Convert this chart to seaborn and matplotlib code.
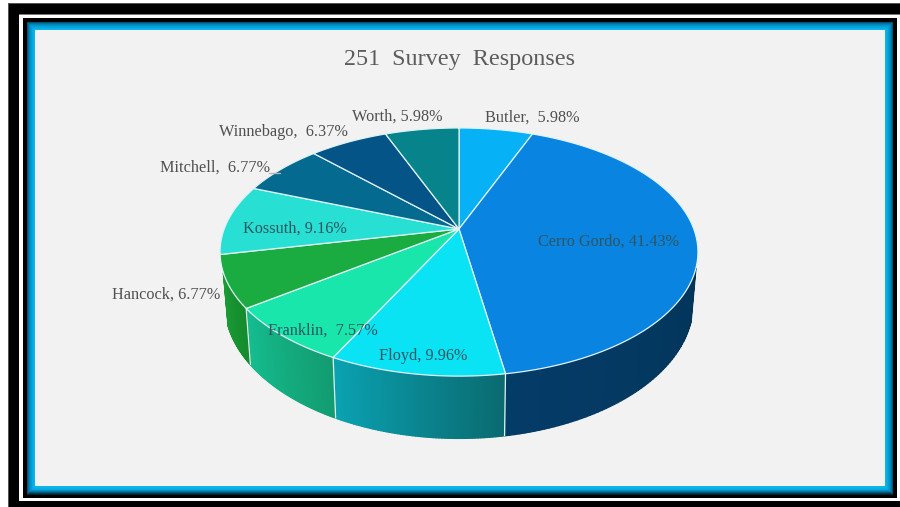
import numpy as np
import matplotlib
matplotlib.use("Agg")
import matplotlib.pyplot as plt
from matplotlib.colors import to_rgb
from matplotlib.patches import Polygon, Rectangle
from matplotlib.collections import PolyCollection
import seaborn as sns

# Survey share per county, clockwise from twelve o'clock
counties = ["Butler", "Cerro Gordo", "Floyd", "Franklin", "Hancock",
            "Kossuth", "Mitchell", "Winnebago", "Worth"]
shares = [5.98, 41.43, 9.96, 7.57, 6.77, 9.16, 6.77, 6.37, 5.98]
top_hex = ["#06b1f6", "#0984e0", "#0ae3f3", "#18e6aa", "#1aac40",
           "#27dfd3", "#046a90", "#055488", "#07838c"]
# Side shading runs from the right end of each slice to its left end
side_right = {1: "#03355a", 2: "#0a6a70", 3: "#129c70", 4: "#148a2c"}
side_left = {1: "#043c68", 2: "#0aa2b2", 3: "#15bd8f", 4: "#1a9a35"}
title_text = "251  Survey  Responses"
label_texts = ["Butler,  5.98%", "Cerro Gordo, 41.43%", "Floyd, 9.96%",
               "Franklin,  7.57%", "Hancock, 6.77%", "Kossuth, 9.16%",
               "Mitchell,  6.77%", "Winnebago,  6.37%", "Worth, 5.98%"]
label_x = [485, 538, 379, 268, 112, 243, 160, 219, 352]
label_y = [118, 241.5, 356.5, 331, 294.5, 228.5, 167.5, 132.5, 116.5]
label_inside = [False, True, True, True, False, True, False, False, False]

sns.set_theme(style="white")
palette = sns.color_palette(top_hex)
plt.rcParams["font.family"] = ["Liberation Serif", "DejaVu Serif"]

fig = plt.figure(figsize=(9, 5.07), dpi=100, facecolor="white")
ax = fig.add_axes([0, 0, 1, 1])
ax.set_xlim(0, 900)
ax.set_ylim(507, 0)
ax.axis("off")


def box(x0, y0, x1, y1, color, z=1):
    ax.add_patch(Rectangle((x0, y0), x1 - x0, y1 - y0, facecolor=color,
                           edgecolor="none", zorder=z))


# Double black border around the card
box(8, 3, 900, 14, "black")
box(8, 3, 19, 507, "black")
box(19, 501, 900, 507, "black")
box(8, 3, 9, 507, "#555555", 1.1)
box(8, 3, 900, 4, "#555555", 1.1)
box(19, 14, 900, 15, "#777777", 1.1)
box(23, 18, 897, 498, "black", 1.2)

# Blue bevel: nested rectangles stepping towards the panel
bevel = ["#04546f", "#00709f", "#0084b8", "#0092c8", "#00a0d6",
         "#02a9e0", "#06b0e6", "#0cb4e8"]
for i, c in enumerate(bevel):
    box(27 + i, 22 + i, 893 - i, 495 - i, c, 1.3 + i * 0.01)
# The lower rim of the bevel falls off into the black border
lower_rim = ["#03222e", "#033a50", "#045a78", "#0478a0", "#0490c0"]
for i, c in enumerate(lower_rim):
    box(27 + i, 495 - i - 1, 893 - i, 495 - i, c, 1.4)
box(35, 30, 885, 486, "#f2f2f2", 1.5)

# Perspective projection of the disc: apex and scales of top and bottom faces
APEX_X, APEX_Y = 459.0, 229.0
A, S, K = 234.8, 119.8, 0.1857
# The side wall is only drawn on the part of the rim that faces the viewer
WALL_START, WALL_END = np.radians(108), np.radians(250)


def top_face(theta):
    u, v = np.sin(theta), -np.cos(theta)
    w = 1 - K * v
    return APEX_X + A * u / w, APEX_Y + S * v / w


def bottom_face(theta):
    x, y = top_face(theta)
    return APEX_X + 0.98 * (x - APEX_X), APEX_Y + 49 + 1.09 * (y - APEX_Y)


edges = np.cumsum([0] + shares) / sum(shares) * 2 * np.pi
EDGE = "#dff3f6"

# Extruded side of the slices facing the viewer, shaded across each slice
for i in side_right:
    t = np.linspace(max(edges[i], WALL_START), min(edges[i + 1], WALL_END), 60)
    xt, yt = top_face(t)
    xb, yb = bottom_face(t)
    c0, c1 = np.array(to_rgb(side_right[i])), np.array(to_rgb(side_left[i]))
    quads, cols = [], []
    for j in range(len(t) - 1):
        quads.append([(xt[j], yt[j]), (xt[j + 1], yt[j + 1]),
                      (xb[j + 1], yb[j + 1]), (xb[j], yb[j])])
        cols.append(c0 + (c1 - c0) * (j / (len(t) - 2)))
    ax.add_collection(PolyCollection(quads, facecolors=cols, edgecolors=cols,
                                     linewidths=1.0, zorder=2))
for i in side_right:
    if i > 1:
        xs, ys = top_face(edges[i]), bottom_face(edges[i])
        ax.plot([xs[0], ys[0]], [xs[1], ys[1]], color=EDGE, lw=0.9, zorder=2.5)

# Top face wedges
for i, col in enumerate(palette):
    t = np.linspace(edges[i], edges[i + 1], 120)
    xt, yt = top_face(t)
    pts = np.column_stack([np.r_[APEX_X, xt], np.r_[APEX_Y, yt]])
    ax.add_patch(Polygon(pts, closed=True, facecolor=col, edgecolor=EDGE,
                         linewidth=0.9, joinstyle="round", zorder=3))

# Short leader from the Mitchell label to its slice
ax.plot([269, 280], [172.5, 172.5], color="#b5b5b5", lw=1, zorder=3.5)

ax.text(460, 60, title_text, ha="center", va="center", fontsize=17.4,
        color="#5c5c5c", zorder=5)
for name, txt, x, y, inside in zip(counties, label_texts, label_x, label_y, label_inside):
    ax.text(x, y, txt, ha="left", va="center", fontsize=11.7,
            color="#2f5560" if inside else "#505050", zorder=5, gid=name)

fig.savefig("out.png", dpi=100, facecolor="white")
